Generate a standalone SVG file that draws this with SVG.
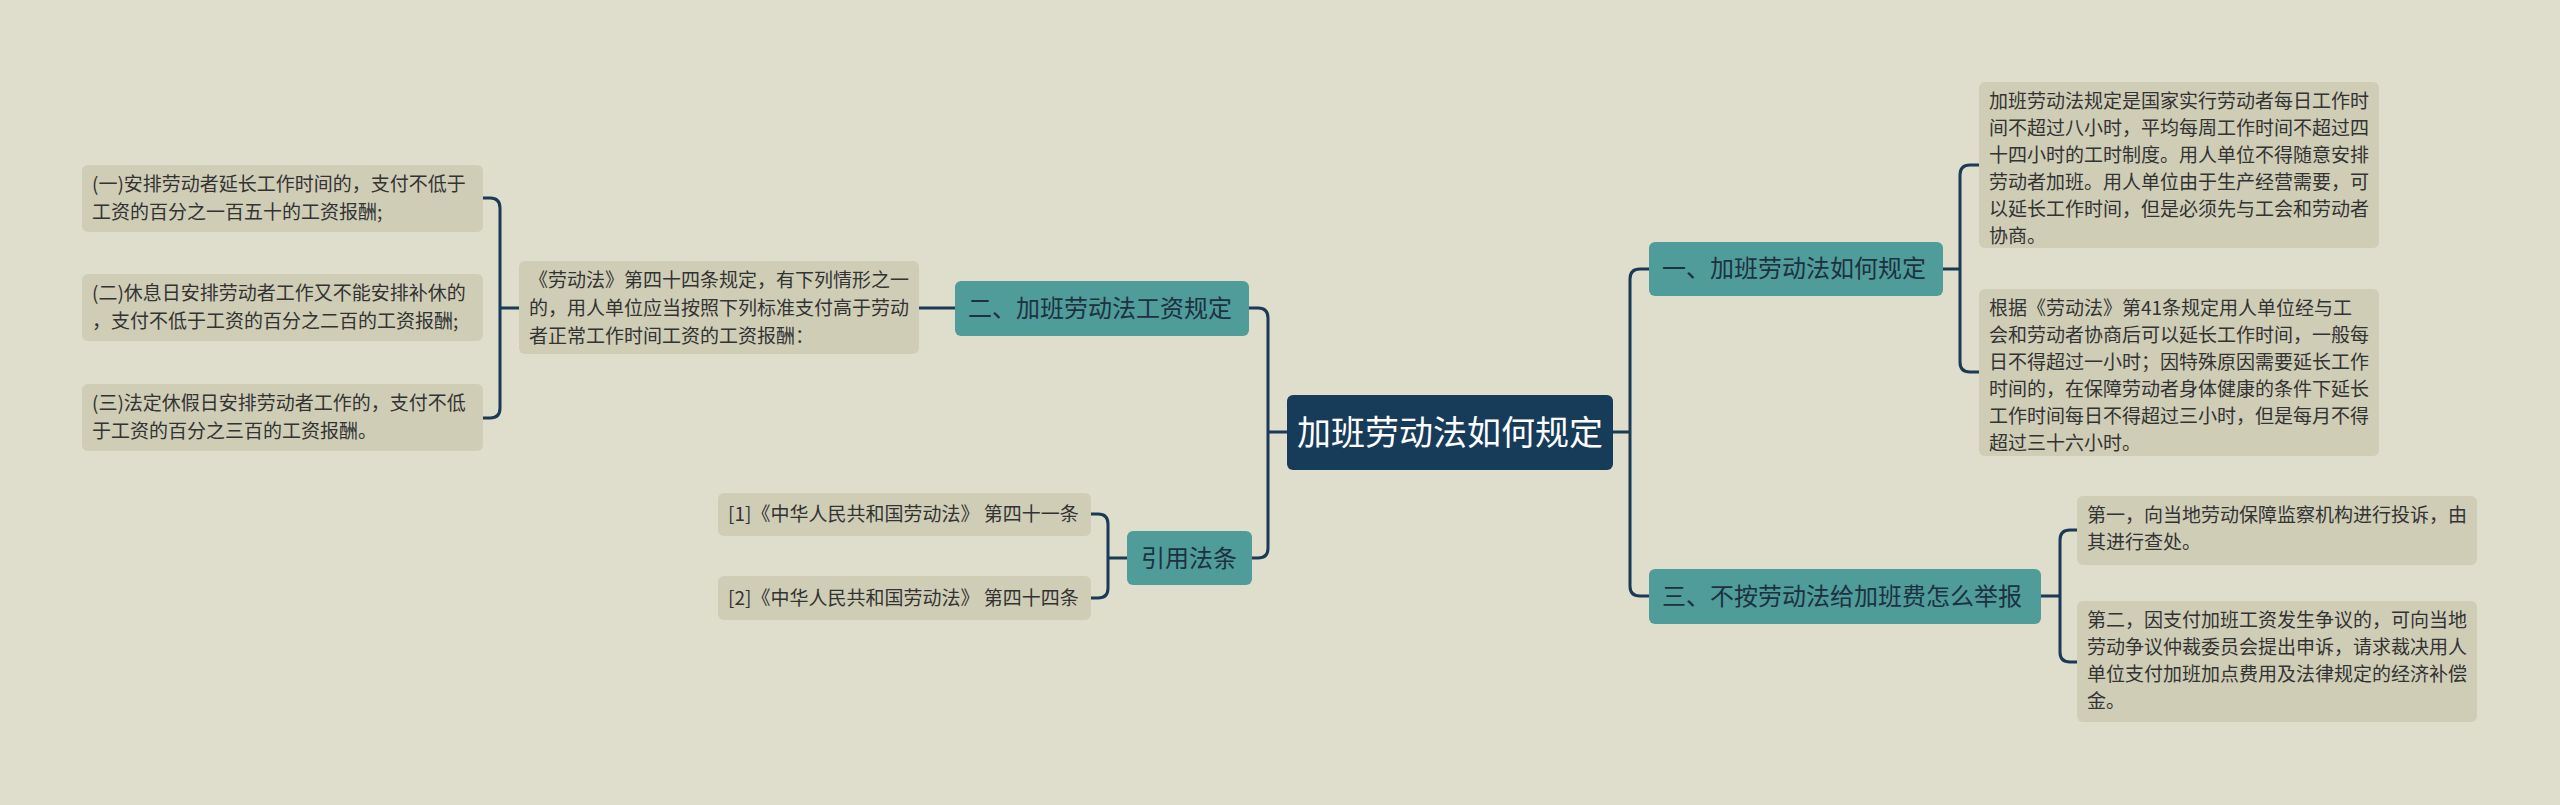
<svg xmlns="http://www.w3.org/2000/svg" width="2560" height="805" viewBox="0 0 2560 805">
<style>
.leaf rect{fill:#cfcdb6}
.leaf text{font-family:"Noto Sans CJK SC","Noto Sans",sans-serif;font-size:19px;fill:#333}
.sub rect{fill:#4f9c9b}
.sub text{font-family:"Noto Sans CJK SC","Noto Sans",sans-serif;font-size:24px;fill:#1d3140}
.root rect{fill:#173c5a}
.root text{font-family:"Noto Sans CJK SC","Noto Sans",sans-serif;font-size:34px;fill:#fff}
#links path{fill:none;stroke:#1b3a56;stroke-width:3}
</style>
<rect width="2560" height="805" fill="#dfddcc"/>
<g id="links">
<path d="M1613 432H1630M1649 269H1640Q1630 269 1630 279V586Q1630 596 1640 596H1649"/>
<path d="M1287 432H1268M1249 308H1258Q1268 308 1268 318V548Q1268 558 1258 558H1252"/>
<path d="M955 308H919"/>
<path d="M519 308H500M483 198H490Q500 198 500 208V408Q500 418 490 418H483"/>
<path d="M1943 269H1960M1979 165H1970Q1960 165 1960 175V362Q1960 372 1970 372H1979"/>
<path d="M2041 596H2060M2077 530H2070Q2060 530 2060 540V652Q2060 662 2070 662H2077"/>
<path d="M1127 558H1108M1091 514H1098Q1108 514 1108 524V588Q1108 598 1098 598H1091"/>
</g>
<g id="root" class="root"><rect x="1287" y="395" width="326" height="75" rx="6"/><text x="1450" y="445" text-anchor="middle">加班劳动法如何规定</text></g>
<g id="n1" class="sub"><rect x="1649" y="242" width="294" height="54" rx="6"/><text x="1662" y="277">一、加班劳动法如何规定</text></g>
<g id="n3" class="sub"><rect x="1649" y="569" width="392" height="55" rx="6"/><text x="1662" y="605">三、不按劳动法给加班费怎么举报</text></g>
<g id="n2" class="sub"><rect x="955" y="281" width="294" height="55" rx="6"/><text x="968" y="317">二、加班劳动法工资规定</text></g>
<g id="n4" class="sub"><rect x="1127" y="531" width="125" height="54" rx="6"/><text x="1141" y="567">引用法条</text></g>
<g id="l1" class="leaf"><rect x="82" y="165" width="401" height="67" rx="6"/><text x="92" y="191">(一)安排劳动者延长工作时间的，支付不低于</text><text x="92" y="219">工资的百分之一百五十的工资报酬;</text></g>
<g id="l2" class="leaf"><rect x="82" y="274" width="401" height="67" rx="6"/><text x="92" y="300">(二)休息日安排劳动者工作又不能安排补休的</text><text x="92" y="328">，支付不低于工资的百分之二百的工资报酬;</text></g>
<g id="l3" class="leaf"><rect x="82" y="384" width="401" height="67" rx="6"/><text x="92" y="410">(三)法定休假日安排劳动者工作的，支付不低</text><text x="92" y="438">于工资的百分之三百的工资报酬。</text></g>
<g id="l4" class="leaf"><rect x="519" y="261" width="400" height="93" rx="6"/><text x="529" y="287">《劳动法》第四十四条规定，有下列情形之一</text><text x="529" y="315">的，用人单位应当按照下列标准支付高于劳动</text><text x="529" y="343">者正常工作时间工资的工资报酬：</text></g>
<g id="l5" class="leaf"><rect x="718" y="493" width="373" height="43" rx="6"/><text x="728" y="521">[1]《中华人民共和国劳动法》 第四十一条</text></g>
<g id="l6" class="leaf"><rect x="718" y="576" width="373" height="44" rx="6"/><text x="728" y="605">[2]《中华人民共和国劳动法》 第四十四条</text></g>
<g id="r1" class="leaf"><rect x="1979" y="82" width="400" height="166" rx="6"/><text x="1989" y="108">加班劳动法规定是国家实行劳动者每日工作时</text><text x="1989" y="135">间不超过八小时，平均每周工作时间不超过四</text><text x="1989" y="162">十四小时的工时制度。用人单位不得随意安排</text><text x="1989" y="189">劳动者加班。用人单位由于生产经营需要，可</text><text x="1989" y="216">以延长工作时间，但是必须先与工会和劳动者</text><text x="1989" y="243">协商。</text></g>
<g id="r2" class="leaf"><rect x="1979" y="289" width="400" height="167" rx="6"/><text x="1989" y="315">根据《劳动法》第41条规定用人单位经与工</text><text x="1989" y="342">会和劳动者协商后可以延长工作时间，一般每</text><text x="1989" y="369">日不得超过一小时；因特殊原因需要延长工作</text><text x="1989" y="396">时间的，在保障劳动者身体健康的条件下延长</text><text x="1989" y="423">工作时间每日不得超过三小时，但是每月不得</text><text x="1989" y="450">超过三十六小时。</text></g>
<g id="r3" class="leaf"><rect x="2077" y="496" width="400" height="69" rx="6"/><text x="2087" y="522">第一，向当地劳动保障监察机构进行投诉，由</text><text x="2087" y="549">其进行查处。</text></g>
<g id="r4" class="leaf"><rect x="2077" y="601" width="400" height="121" rx="6"/><text x="2087" y="627">第二，因支付加班工资发生争议的，可向当地</text><text x="2087" y="654">劳动争议仲裁委员会提出申诉，请求裁决用人</text><text x="2087" y="681">单位支付加班加点费用及法律规定的经济补偿</text><text x="2087" y="708">金。</text></g>
</svg>
